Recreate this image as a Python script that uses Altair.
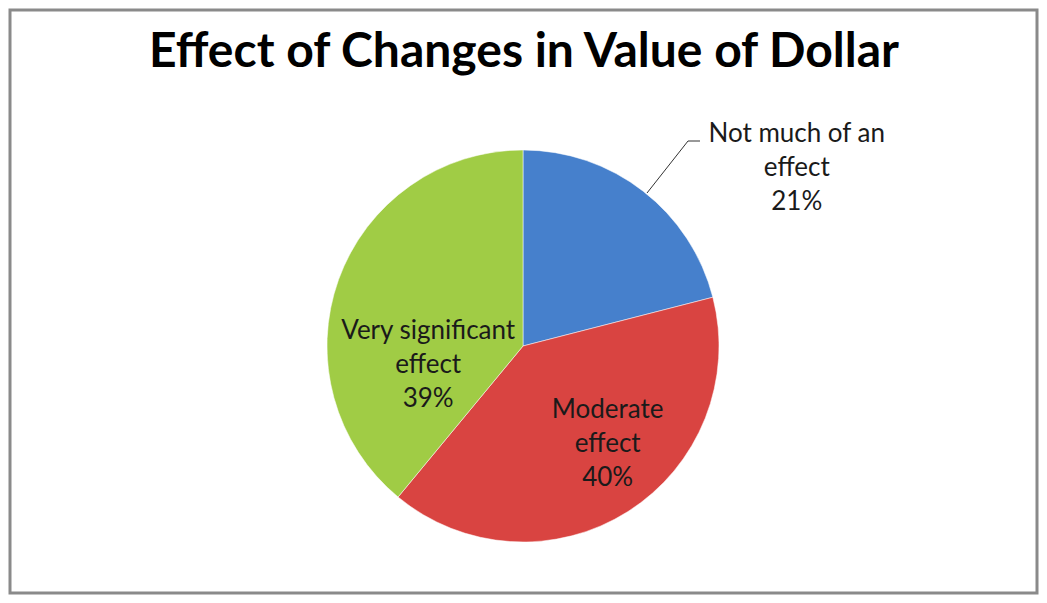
import altair as alt
import pandas as pd

# ---- data ----
categories = ["Not much of an effect", "Moderate effect", "Very significant effect"]
label_first = ["Not much of an", "Moderate", "Very significant"]
label_second = ["effect", "effect", "effect"]
percents = [21, 40, 39]
colors = ["#4680cc", "#d94441", "#a0cc45"]
title_text = "Effect of Changes in Value of Dollar"

df = pd.DataFrame({
    "category": categories,
    "order": list(range(len(categories))),
    "pct": percents,
    "label": [f"{a}\n{b}\n{p}%" for a, b, p in zip(label_first, label_second, percents)],
})

CX, CY, R = 513, 336, 196
FONT = "Lato"

base = alt.Chart(df)

pie = base.mark_arc(stroke="#ffffff", strokeWidth=1, strokeOpacity=0.5).encode(
    theta=alt.Theta("pct:Q", stack=True, scale=alt.Scale(domain=[0, 100])),
    color=alt.Color("category:N", scale=alt.Scale(domain=categories, range=colors), legend=None),
    order=alt.Order("order:Q"),
    x=alt.value(CX),
    y=alt.value(CY),
    radius=alt.value(R),
)


def label_layer(cat, radius, theta_offset):
    return (
        base.transform_window(cum="sum(pct)", sort=[alt.SortField("order")], frame=[None, 0])
        .transform_calculate(mid="datum.cum - datum.pct / 2")
        .transform_filter(alt.datum.category == cat)
        .mark_text(
            font=FONT, fontSize=26, lineBreak="\n", lineHeight=34,
            align="center", baseline="middle", color="#1a1a1a",
            radius=radius, thetaOffset=theta_offset,
        )
        .encode(
            theta=alt.Theta("mid:Q", stack=None, scale=alt.Scale(domain=[0, 100])),
            text="label:N",
            x=alt.value(CX),
            y=alt.value(CY),
        )
    )


labels = [
    label_layer(categories[0], 346, 0.253),
    label_layer(categories[1], 106, -0.360),
    label_layer(categories[2], 96, -0.188),
]

one = alt.Chart(pd.DataFrame({"k": [0]}))
leader1 = one.mark_rule(color="#333333", strokeWidth=1).encode(
    x=alt.value(637), y=alt.value(183), x2=alt.value(678), y2=alt.value(131))
leader2 = one.mark_rule(color="#333333", strokeWidth=1).encode(
    x=alt.value(678), y=alt.value(131), x2=alt.value(690), y2=alt.value(131))

title = one.mark_text(
    text=title_text, font=FONT, fontSize=48, fontWeight="bold", color="#000000",
    align="center", baseline="alphabetic",
).encode(x=alt.value(CX + 1), y=alt.value(57))

chart = (
    alt.layer(pie, *labels, leader1, leader2, title)
    .properties(width=1027, height=583, autosize="none", padding=2, background="#ffffff")
    .configure_view(stroke="#8a8a8a", strokeWidth=3)
)

chart.save("out.html", embed_options={"renderer": "svg", "actions": False})
